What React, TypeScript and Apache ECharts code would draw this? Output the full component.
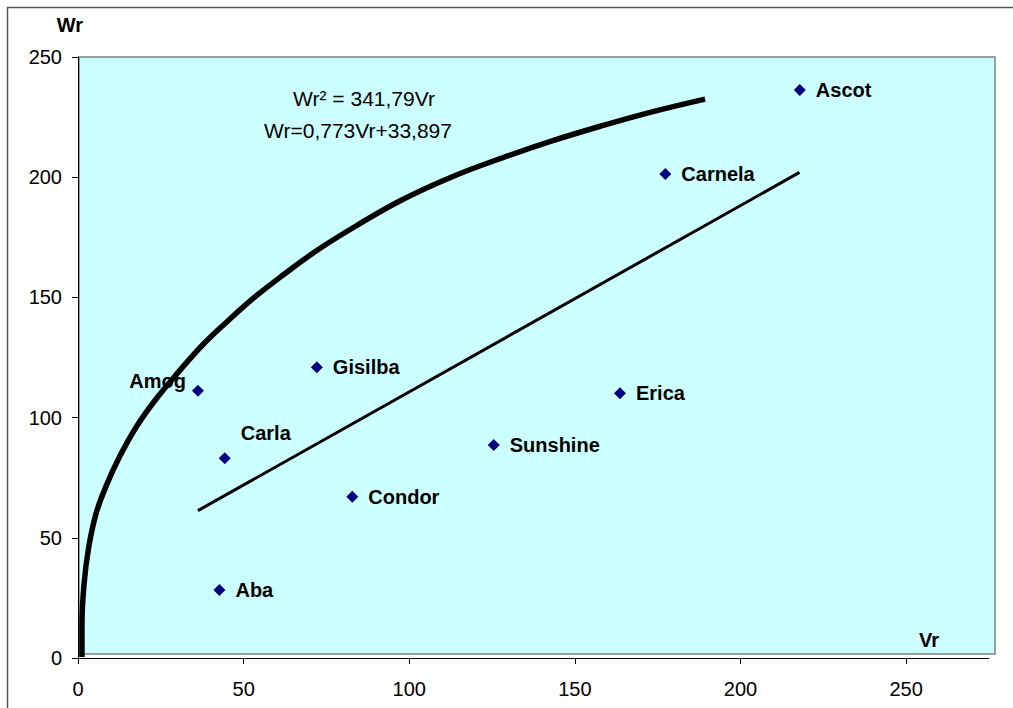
import React, { useEffect, useRef } from "react";
import * as echarts from "echarts";

const varieties = ["Aba", "Amog", "Carla", "Gisilba", "Condor", "Sunshine", "Erica", "Carnela", "Ascot"];
const vrValues = [42.7, 36.2, 44.3, 72.1, 82.8, 125.5, 163.6, 177.3, 217.9];
const wrValues = [28.3, 111.2, 83.1, 120.9, 67.1, 88.6, 110.1, 201.3, 236.3];

const trendVr = [36.2, 217.8];
const trendWr = [61.3, 202.0];

const curveVr = [1.2, 1.2, 1.8, 3.2, 5.5, 8.6, 12.5, 17.4, 23.1, 30.1, 37.6, 44.9, 52.6, 61.9, 72.3, 83.9, 97.7, 112.8, 128.8, 143.1, 157.9, 173.0, 189.3];
const curveWr = [0.4, 13.7, 30.4, 45.8, 60.3, 71.9, 83.6, 95.7, 106.9, 118.6, 130.2, 139.8, 149.3, 159.3, 169.7, 179.7, 190.5, 200.1, 208.4, 215.1, 221.3, 227.1, 232.5];

const xTicks = [0, 50, 100, 150, 200, 250];
const equationLines = ["Wr\u00B2 = 341,79Vr", "Wr=0,773Vr+33,897"];
const xTitle = "Vr";
const yTitle = "Wr";

const FONT = "'Liberation Sans', Arial, sans-serif";

export default function App() {
  const ref = useRef<HTMLDivElement>(null);

  useEffect(() => {
    if (!ref.current) return;
    const chart = echarts.init(ref.current, null, { renderer: "svg" });

    const labelPos: Record<string, any> = {
      Amog: { position: "left", distance: 6, offset: [0, -10] },
      Carla: { position: "right", distance: 10, offset: [0, -25] },
    };

    const scatterData = varieties.map((name, i) => {
      const lp = labelPos[name];
      const item: any = { name, value: [vrValues[i], wrValues[i]] };
      if (lp) item.label = lp;
      return item;
    });

    chart.setOption({
      animation: false,
      textStyle: { fontFamily: FONT },
      grid: { left: 78, right: 24, top: 57, bottom: 50, containLabel: false },
      xAxis: {
        type: "value",
        min: 0,
        max: 275,
        interval: 50,
        axisLine: { show: true, lineStyle: { color: "#000", width: 1 } },
        axisTick: { show: true, length: 6, customValues: xTicks, lineStyle: { color: "#000" } },
        axisLabel: { customValues: xTicks, margin: 21, fontSize: 20, color: "#000", fontFamily: FONT },
        splitLine: { show: false },
      },
      yAxis: {
        type: "value",
        min: 0,
        max: 250,
        interval: 50,
        axisLine: { show: true, lineStyle: { color: "#000", width: 1 } },
        axisTick: { show: true, length: 6, lineStyle: { color: "#000" } },
        axisLabel: { margin: 16, fontSize: 20, color: "#000", fontFamily: FONT },
        splitLine: { show: false },
      },
      graphic: [
        {
          type: "rect",
          z: -10,
          silent: true,
          shape: { x: 7.5, y: 7.5, width: 1200, height: 900 },
          style: { fill: "none", stroke: "#555", lineWidth: 1.5 },
        },
        {
          type: "rect",
          z: -5,
          silent: true,
          shape: { x: 79, y: 57, width: 916, height: 597 },
          style: { fill: "#CCFFFF", stroke: "#808080", lineWidth: 1.5 },
        },
        {
          type: "text",
          z: 100,
          x: 364,
          y: 98,
          style: {
            text: equationLines[0],
            fontSize: 21,
            fontFamily: FONT,
            fill: "#000",
            align: "center",
            verticalAlign: "middle",
          },
        },
        {
          type: "text",
          z: 100,
          x: 358,
          y: 130,
          style: {
            text: equationLines[1],
            fontSize: 21,
            fontFamily: FONT,
            fill: "#000",
            align: "center",
            verticalAlign: "middle",
          },
        },
        {
          type: "text",
          z: 100,
          x: 70,
          y: 25,
          style: {
            text: yTitle,
            fontSize: 20,
            fontWeight: "bold",
            fontFamily: FONT,
            fill: "#000",
            align: "center",
            verticalAlign: "middle",
          },
        },
        {
          type: "text",
          z: 100,
          x: 929,
          y: 640,
          style: {
            text: xTitle,
            fontSize: 20,
            fontWeight: "bold",
            fontFamily: FONT,
            fill: "#000",
            align: "center",
            verticalAlign: "middle",
          },
        },
      ],
      series: [
        {
          name: "Wr² = 341,79Vr",
          type: "line",
          smooth: 0.4,
          showSymbol: false,
          symbol: "none",
          lineStyle: { color: "#000", width: 5.5 },
          data: curveVr.map((v, i) => [v, curveWr[i]]),
          z: 3,
        },
        {
          name: "Wr=0,773Vr+33,897",
          type: "line",
          showSymbol: false,
          symbol: "none",
          lineStyle: { color: "#000", width: 3 },
          data: trendVr.map((v, i) => [v, trendWr[i]]),
          z: 3,
        },
        {
          name: "Varieties",
          type: "scatter",
          symbol: "diamond",
          symbolSize: 12,
          itemStyle: { color: "#000080", opacity: 1 },
          label: {
            show: true,
            position: "right",
            distance: 10,
            formatter: (p: any) => p.name,
            fontSize: 20,
            fontWeight: "bold",
            color: "#000",
            fontFamily: FONT,
          },
          data: scatterData,
          z: 4,
        },
      ],
    });

    return () => {
      chart.dispose();
    };
  }, []);

  return (
    <div
      ref={ref}
      style={{ position: "fixed", left: 0, top: 0, width: 1013, height: 708, background: "#fff" }}
    />
  );
}
